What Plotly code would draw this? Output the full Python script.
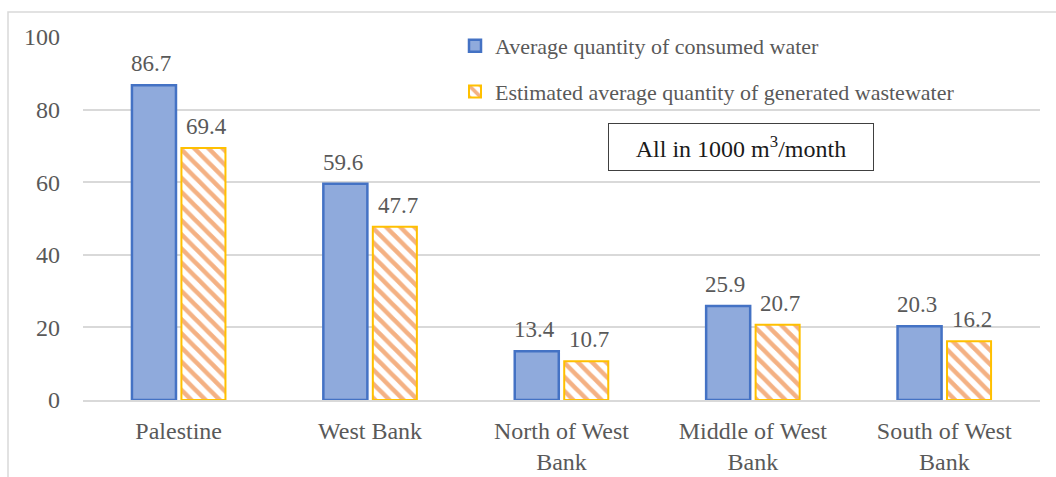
import plotly.graph_objects as go

categories = ["Palestine", "West Bank", "North of West<br>Bank", "Middle of West<br>Bank", "South of West<br>Bank"]
consumed = [86.7, 59.6, 13.4, 25.9, 20.3]
wastewater = [69.4, 47.7, 10.7, 20.7, 16.2]
series_names = ["Average quantity of consumed water", "Estimated average quantity of generated wastewater"]
y_ticks = [0, 20, 40, 60, 80, 100]

FONT = "Liberation Serif"
GRAY = "#595959"

fig = go.Figure()
fig.add_trace(go.Bar(
    x=categories, y=consumed, name=series_names[0], legendgroup="a",
    marker=dict(color="#8FAADC", line=dict(color="#4472C4", width=2.5)),
))
fig.add_trace(go.Bar(
    x=categories, y=wastewater, name=series_names[1], legendgroup="b",
    marker=dict(color="white", line=dict(color="#FFC000", width=2),
                pattern=dict(shape="\\", fgcolor="#F4B183", fgopacity=1, bgcolor="white",
                             size=10, solidity=0.45)),
))

annotations = []
for vals, shift in ((consumed, -27.5), (wastewater, 27.5)):
    for c, v in zip(categories, vals):
        annotations.append(dict(x=c, y=v, text=f"{v:.1f}", showarrow=False, xref="x", yref="y",
                                xshift=shift, yshift=7, yanchor="bottom",
                                font=dict(family=FONT, size=23, color=GRAY)))

W0, H0 = 1056, 477
l, r, t, b = 83, 16, 37, 77
pw, ph = W0 - l - r, H0 - t - b

def px_x(p):
    return (p - l) / pw

def px_y(p):
    return (H0 - b - p) / ph

annotations.append(dict(x=px_x(740.5), y=px_y(147), xref="paper", yref="paper", showarrow=False,
                        xanchor="center", yanchor="middle",
                        text="All in 1000 m<sup>3</sup>/month", width=260, height=42,
                        bordercolor="#404040", borderwidth=1, borderpad=2, bgcolor="white",
                        font=dict(family=FONT, size=24, color="#1a1a1a")))

shapes = [dict(type="rect", xref="paper", yref="paper",
               x0=px_x(8), x1=px_x(1070), y0=px_y(490), y1=px_y(12),
               line=dict(color="#D9D9D9", width=1.5), layer="below")]

fig.update_layout(
    width=W0, height=H0,
    margin=dict(l=l, r=r, t=t, b=b),
    paper_bgcolor="white", plot_bgcolor="white",
    barmode="group", bargap=0.483, bargroupgap=0.11,
    font=dict(family=FONT, size=22, color=GRAY),
    showlegend=True,
    legend=dict(x=px_x(455), y=px_y(25), xanchor="left", yanchor="top",
                font=dict(family=FONT, size=22, color=GRAY),
                tracegroupgap=14, bgcolor="rgba(0,0,0,0)"),
    annotations=annotations,
    shapes=shapes,
    xaxis=dict(showgrid=False, showline=True, linecolor="#D9D9D9", linewidth=1.5, automargin=False,
               tickfont=dict(family=FONT, size=24, color=GRAY), ticks="", ticklabelstandoff=8),
    yaxis=dict(range=[0, 100], tickvals=y_ticks, showgrid=True, gridcolor="#D9D9D9", gridwidth=1.5,
               zeroline=False, showline=False, ticks="", automargin=False,
               tickfont=dict(family=FONT, size=24, color=GRAY), ticklabelstandoff=22),
)

fig.write_html("out.html")
